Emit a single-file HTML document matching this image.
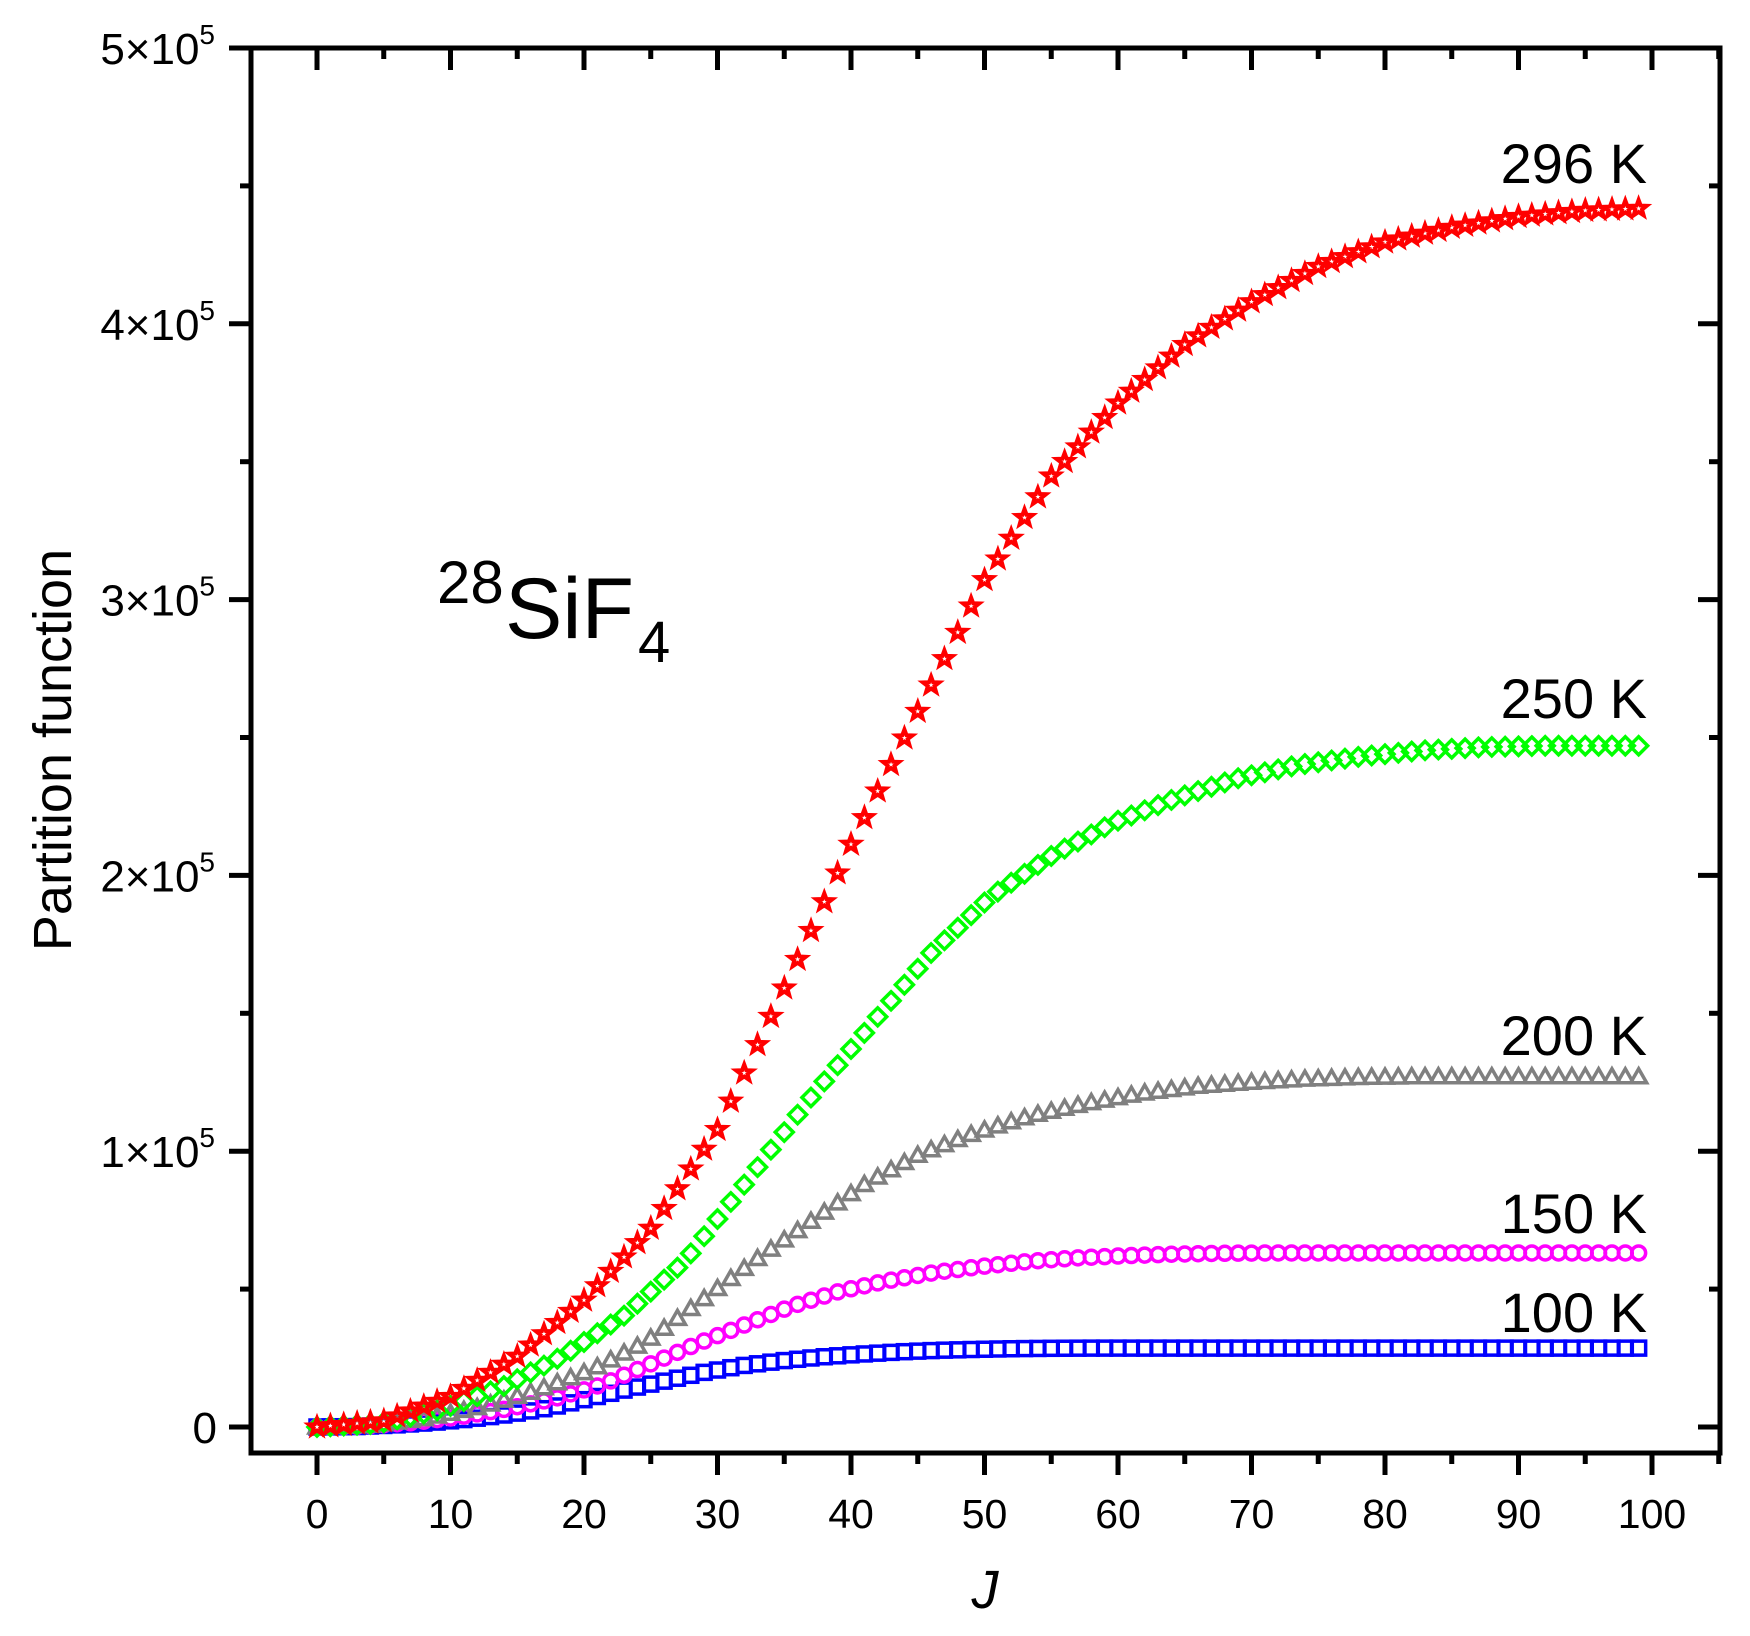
<!DOCTYPE html>
<html><head><meta charset="utf-8"><style>
html,body{margin:0;padding:0;background:#fff;}
svg{display:block;font-family:"Liberation Sans",Arial,sans-serif;}
</style></head><body>
<svg id="s" width="1750" height="1636" viewBox="0 0 1750 1636" xmlns="http://www.w3.org/2000/svg">
<g id="data"></g>
<g id="axes" stroke="#000" stroke-width="5" fill="none"></g>
<g fill="#000">
<text x="1647" y="183" font-size="56" text-anchor="end">296 K</text>
<text x="1647" y="718" font-size="56" text-anchor="end">250 K</text>
<text x="1647" y="1055" font-size="56" text-anchor="end">200 K</text>
<text x="1647" y="1233" font-size="56" text-anchor="end">150 K</text>
<text x="1647" y="1332" font-size="56" text-anchor="end">100 K</text>
<text x="437" y="603" font-size="60">28</text>
<text x="505" y="638" font-size="86">SiF</text>
<text x="638" y="662" font-size="58">4</text>
<text transform="translate(71,750) rotate(-90)" font-size="54" text-anchor="middle">Partition function</text>
<text x="985" y="1608" font-size="54" font-style="italic" text-anchor="middle">J</text>
</g>
<g id="labels" fill="#000"></g>
</svg>
<script>
var NS="http://www.w3.org/2000/svg";
function el(p,t,a,txt){var e=document.createElementNS(NS,t);for(var k in a)e.setAttribute(k,a[k]);if(txt!==undefined)e.textContent=txt;p.appendChild(e);return e;}
var X=function(j){return 317+13.35*j;}, Y=function(v){return 1427-v*275.8/1e5;};
var ax=document.getElementById('axes'), lb=document.getElementById('labels');
el(ax,'rect',{x:251,y:48,width:1469,height:1405});
for(var j=-5;j<=105;j+=5){var x=X(j);if(x<251||x>1720)continue;var maj=(j%10==0);
 el(ax,'line',{x1:x,y1:1453,x2:x,y2:1453+(maj?22:11)});
 el(ax,'line',{x1:x,y1:48,x2:x,y2:48+(maj?22:11)});
 if(maj&&j>=0&&j<=100) el(lb,'text',{x:x,y:1528,'font-size':41,'text-anchor':'middle'},String(j));}
for(var k=0;k<=10;k++){var v=k*0.5e5,y=Y(v),maj=(k%2==0);
 el(ax,'line',{x1:251,y1:y,x2:251-(maj?22:11),y2:y});
 el(ax,'line',{x1:1720,y1:y,x2:1720-(maj?22:11),y2:y});
 if(maj){ if(k==0){el(lb,'text',{x:217,y:y+16,'font-size':44,'text-anchor':'end'},'0');}
  else{var t=el(lb,'text',{x:215,y:y+16,'font-size':44,'text-anchor':'end'});
   var a=document.createElementNS(NS,'tspan');a.textContent=(k/2)+'×10';t.appendChild(a);
   var b=document.createElementNS(NS,'tspan');b.setAttribute('font-size','28');b.setAttribute('dy','-20');b.textContent='5';t.appendChild(b);}}}
// normalized shape table for 296 K (u = J)
var TU=[0,5,10,15,20,25,30,35,40,45,50,55,60,65,70,75,80,85,90,95,100,120];
var TF=[0,.005,.025,.058,.104,.163,.244,.36,.478,.587,.695,.78,.84,.888,.923,.952,.972,.984,.993,.998,1,1];
function F(u){if(u>=120)return 1;for(var i=1;i<TU.length;i++){if(u<=TU[i]){var f=(u-TU[i-1])/(TU[i]-TU[i-1]);return TF[i-1]+f*(TF[i]-TF[i-1]);}}return 1;}
var series=[
 {T:100,Q:28600,c:'#0000ff',m:'sq'},
 {T:150,Q:63100,c:'#ff00ff',m:'ci'},
 {T:200,Q:127000,c:'#808080',m:'tri'},
 {T:250,Q:247000,c:'#00ff00',m:'dia'},
 {T:296,Q:442000,c:'#ff0000',m:'star'}];
var g=document.getElementById('data');
series.forEach(function(s){
 var sc=Math.sqrt(296/s.T);
 for(var j=0;j<100;j++){
  var x=X(j),y=Y(s.Q*F(j*sc)),r=7;
  var at={fill:'none',stroke:s.c,'stroke-width':3.5};
  if(s.m=='sq') el(g,'rect',Object.assign({x:x-r,y:y-r,width:2*r,height:2*r},at));
  else if(s.m=='ci') el(g,'circle',Object.assign({cx:x,cy:y,r:r},at));
  else if(s.m=='tri') el(g,'polygon',Object.assign({points:(x)+','+(y-r-1)+' '+(x+r+1)+','+(y+r-1)+' '+(x-r-1)+','+(y+r-1)},at));
  else if(s.m=='dia') el(g,'polygon',Object.assign({points:x+','+(y-r-2)+' '+(x+r+2)+','+y+' '+x+','+(y+r+2)+' '+(x-r-2)+','+y},at));
  else {var p=[];for(var i=0;i<10;i++){var rr=i%2?r*0.5:r+1.5,an=-Math.PI/2+i*Math.PI/5;p.push((x+rr*Math.cos(an)).toFixed(1)+','+(y+rr*Math.sin(an)).toFixed(1));}
   el(g,'polygon',Object.assign({points:p.join(' ')},at,{'stroke-width':4}));}
 }});
</script>
</body></html>
